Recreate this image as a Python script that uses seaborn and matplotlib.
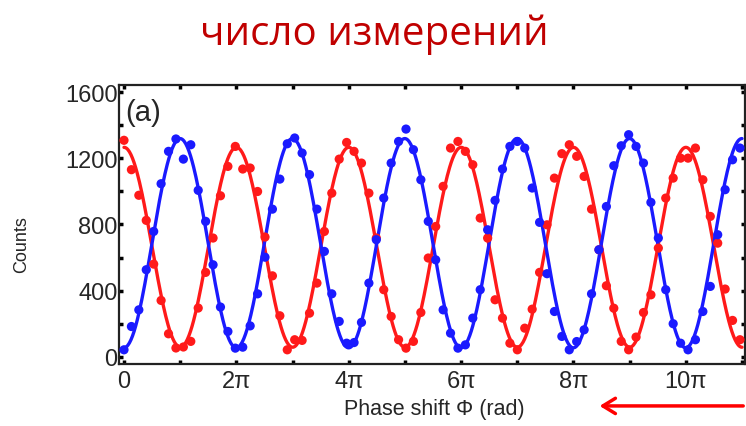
import numpy as np
import pandas as pd
import seaborn as sns
import matplotlib.pyplot as plt


# Counts, one dot per phase step
red_counts = [1310, 1132, 977, 825, 560, 340, 138, 52, 58, 92, 294, 510, 718, 974, 1152, 1273,
              1136, 1142, 1000, 724, 489, 247, 41, 102, 98, 263, 445, 758, 990, 1196, 1297, 1243,
              1172, 990, 718, 405, 243, 102, 51, 92, 267, 597, 788, 1031, 1263, 1303, 1243, 1162,
              839, 718, 344, 233, 81, 41, 172, 287, 510, 798, 1081, 1229, 1283, 1213, 1091, 893,
              647, 429, 293, 92, 41, 118, 267, 374, 657, 960, 1081, 1202, 1202, 1263, 1071, 849,
              687, 409, 219, 102]
blue_counts = [41, 182, 283, 526, 758, 1047, 1243, 1318, 1196, 1283, 1007, 819, 556, 300, 152, 51,
               57, 186, 380, 602, 893, 1075, 1289, 1324, 1233, 1102, 893, 637, 380, 213, 81, 85,
               207, 445, 708, 960, 1172, 1303, 1378, 1253, 1071, 819, 586, 283, 142, 51, 71, 233,
               405, 768, 946, 1136, 1273, 1303, 1263, 1021, 813, 502, 273, 122, 41, 91, 162, 380,
               647, 909, 1156, 1277, 1344, 1273, 1172, 934, 718, 405, 199, 81, 41, 102, 273, 425,
               738, 1011, 1192, 1263]
phase_step = 0.415  # rad between measurements
phase = np.arange(len(red_counts)) * phase_step

xtick_labels = ['0', '2π', '4π', '6π', '8π', '10π']

df = pd.DataFrame({'phase': np.concatenate([phase, phase]),
                   'counts': red_counts + blue_counts,
                   'port': ['red'] * len(red_counts) + ['blue'] * len(blue_counts)})


# sinusoidal fit a + b cos(phi) + c sin(phi) for each port
def cos_fit(x, y, xs):
    A = np.column_stack([np.ones_like(x), np.cos(x), np.sin(x)])
    a, b, c = np.linalg.lstsq(A, np.asarray(y, float), rcond=None)[0]
    return a + b * np.cos(xs) + c * np.sin(xs)


xs = np.linspace(0, 11 * np.pi, 800)
fits = []
for port in ['red', 'blue']:
    sub = df[df['port'] == port]
    fits.append(pd.DataFrame({'phase': xs, 'counts': cos_fit(sub['phase'].values, sub['counts'].values, xs),
                              'port': port}))
fit_df = pd.concat(fits)

sns.set_style('ticks')
plt.rcParams['font.family'] = ['Liberation Sans', 'DejaVu Sans']

palette = {'red': '#ff1a1a', 'blue': '#1a1aff'}

fig = plt.figure(figsize=(7.46, 4.27), dpi=100)
ax = fig.add_axes([0.1595, 0.1452, 0.839, 0.6534])

sns.lineplot(data=fit_df, x='phase', y='counts', hue='port', palette=palette, lw=2.4,
             legend=False, ax=ax, sort=False)
sns.scatterplot(data=df, x='phase', y='counts', hue='port', palette=palette, s=44,
                edgecolor='none', legend=False, ax=ax, zorder=3)

ax.set_xlim(-0.28, 34.72)
ax.set_ylim(-45, 1645)
ax.set_xticks(np.arange(0, 11, 2) * np.pi, labels=xtick_labels)
ax.set_xticks(np.arange(1, 12, 2) * np.pi, minor=True)
ax.set_yticks([0, 400, 800, 1200, 1600])
ax.set_yticks([200, 600, 1000, 1400], minor=True)
ax.tick_params(which='both', direction='in', top=True, right=True, length=3, width=2.5, color='black')
ax.tick_params(axis='x', labelsize=17, pad=4)
ax.tick_params(axis='y', labelsize=17, pad=1)
for s in ax.spines.values():
    s.set_linewidth(1.6)
    s.set_color('#222222')

ax.set_xlabel('Phase shift Φ (rad)', fontsize=15.5)
ax.xaxis.set_label_coords(0.504, -0.16)
ax.xaxis.label.set_va('center')
ax.set_ylabel('Counts', fontsize=13)
ax.yaxis.set_label_coords(-0.155, 0.43)
ax.yaxis.label.set_va('center')

ax.text(0.01, 0.905, '(a)', transform=ax.transAxes, fontsize=21, va='center', ha='left')

fig.text(0.502, 0.918, 'число измерений', color='#c00000', fontsize=29, ha='center', va='center',
         family=['Open Sans', 'DejaVu Sans'])

ax.annotate('', xy=(0.80, 0.047), xytext=(1.0, 0.047), xycoords='figure fraction',
            textcoords='figure fraction',
            arrowprops=dict(arrowstyle='->, head_length=0.9, head_width=0.55', color='#ff0000', lw=2.5))

fig.savefig('out.png', dpi=100)
